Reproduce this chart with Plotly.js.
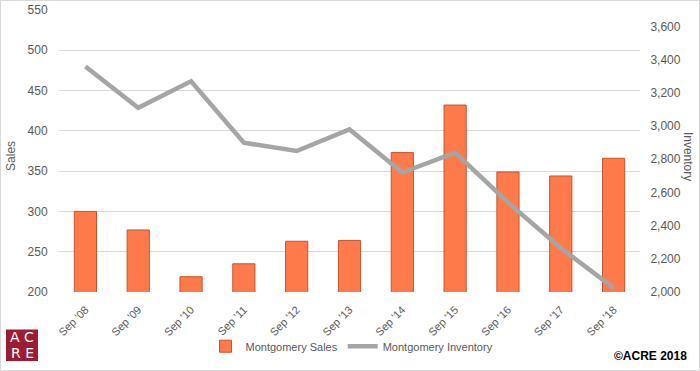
<!DOCTYPE html>
<html>
<head>
<meta charset="utf-8">
<script src="https://cdn.plot.ly/plotly-3.0.1.min.js"></script>
<style>
  html, body { margin: 0; padding: 0; background: #fff; }
  #wrap { width: 700px; height: 371px; box-sizing: border-box; border: 1px solid #d9d9d9; }
  #chart { width: 698px; height: 369px; }
</style>
</head>
<body>
<div id="wrap"><div id="chart"></div></div>
<script>
const categories = ["Sep '08", "Sep '09", "Sep '10", "Sep '11", "Sep '12", "Sep '13", "Sep '14", "Sep '15", "Sep '16", "Sep '17", "Sep '18"];
const sales = [300, 277, 219, 235, 263, 264, 373, 432, 349, 344, 366];
const inventory = [3360, 3110, 3270, 2900, 2850, 2980, 2720, 2840, 2540, 2265, 2025];

const W = 698, H = 369;
const M = { l: 58, r: 59, t: 9, b: 74 };
const pw = W - M.l - M.r, ph = H - M.t - M.b;
const px = x => (x - 1 - M.l) / pw;           // page x -> paper x
const py = y => (H - M.b - (y - 1)) / ph;     // page y -> paper y

const grey = '#595959';
const font = 'Liberation Sans, Arial, sans-serif';

const traces = [
  {
    type: 'bar', name: 'Montgomery Sales', x: categories, y: sales, yaxis: 'y',
    width: 0.42,
    marker: { color: '#FF7A4A', line: { color: '#C4552E', width: 1 } },
    hoverinfo: 'x+y'
  },
  {
    type: 'scatter', mode: 'lines', name: 'Montgomery Inventory', x: categories, y: inventory, yaxis: 'y2',
    line: { color: '#A5A5A5', width: 4.5 },
    hoverinfo: 'x+y'
  }
];

const layout = {
  width: W, height: H,
  margin: M,
  paper_bgcolor: '#fff', plot_bgcolor: '#fff',
  font: { family: font, size: 11, color: grey },
  showlegend: true,
  legend: {
    orientation: 'h', x: px(352), xanchor: 'center', y: py(351), yanchor: 'middle',
    font: { size: 11, color: grey }, bgcolor: 'rgba(0,0,0,0)', itemwidth: 30
  },
  xaxis: {
    type: 'category', tickangle: -45, showgrid: false, zeroline: false, showline: false,
    ticks: 'outside', ticklen: 6, tickcolor: 'rgba(0,0,0,0)',
    tickfont: { size: 11, color: grey }, fixedrange: true
  },
  yaxis: {
    range: [200, 550], dtick: 50, tick0: 200,
    showgrid: true, gridcolor: '#D9D9D9', gridwidth: 1, zeroline: false, showline: false,
    ticks: 'outside', ticklen: 8, tickcolor: 'rgba(0,0,0,0)',
    tickfont: { size: 12, color: grey }, fixedrange: true
  },
  yaxis2: {
    overlaying: 'y', side: 'right', range: [2000, 3700], dtick: 200, tick0: 2000,
    tickformat: ',d', showgrid: false, zeroline: false, showline: false,
    ticks: 'outside', ticklen: 7, tickcolor: 'rgba(0,0,0,0)',
    tickfont: { size: 12, color: grey }, fixedrange: true
  },
  shapes: [
    { type: 'rect', xref: 'paper', yref: 'paper', x0: px(6), x1: px(38), y0: py(366), y1: py(334),
      fillcolor: '#9C1C33', line: { width: 0 }, layer: 'above' }
  ],
  annotations: [
    { text: 'Sales', xref: 'paper', yref: 'paper', x: px(11), y: py(158), showarrow: false,
      textangle: -90, font: { size: 12, color: grey }, xanchor: 'center', yanchor: 'middle' },
    { text: 'Inventory', xref: 'paper', yref: 'paper', x: px(688), y: py(158), showarrow: false,
      textangle: 90, font: { size: 12, color: grey }, xanchor: 'center', yanchor: 'middle' },
    { text: 'A C', xref: 'paper', yref: 'paper', x: px(22), y: py(342), showarrow: false,
      font: { size: 14, color: '#fff', family: 'DejaVu Sans, sans-serif' }, xanchor: 'center', yanchor: 'middle' },
    { text: 'R E', xref: 'paper', yref: 'paper', x: px(22), y: py(358), showarrow: false,
      font: { size: 14, color: '#fff', family: 'DejaVu Sans, sans-serif' }, xanchor: 'center', yanchor: 'middle' },
    { text: '<b>©ACRE 2018</b>', xref: 'paper', yref: 'paper', x: px(689), y: py(361), showarrow: false,
      font: { size: 12, color: '#000' }, xanchor: 'right', yanchor: 'middle' }
  ]
};

Plotly.newPlot('chart', traces, layout, { displayModeBar: false, staticPlot: true });
</script>
</body>
</html>
